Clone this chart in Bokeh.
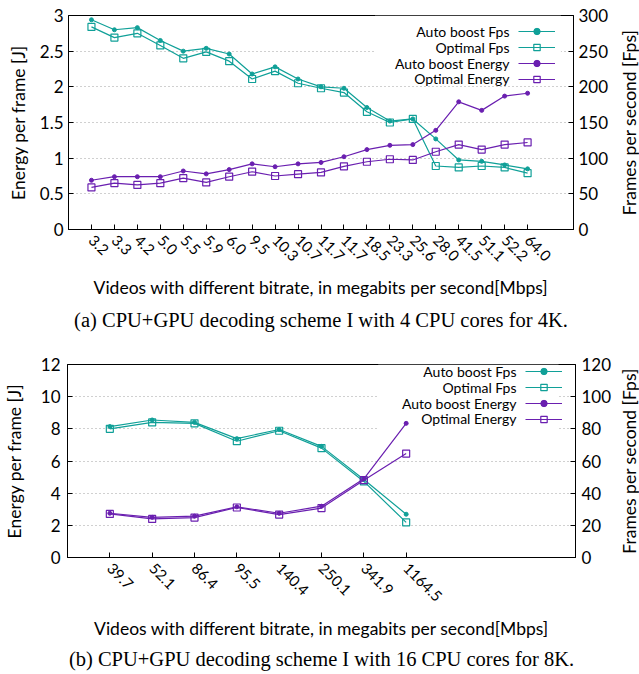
import math
from bokeh.plotting import figure
from bokeh.models import (Range1d, LinearAxis, FixedTicker, Label, Legend,
                          LegendItem, BoxAnnotation, Title)
from bokeh.layouts import column, row
from bokeh.embed import file_html
from bokeh.resources import INLINE

TEAL = "#10a098"
PURPLE = "#6a1fb0"
FONT = "Lato"
SERIF = "Liberation Serif"

# ---------------- data: panel (a) ----------------
a_bitrate = ["3.2", "3.3", "4.2", "5.0", "5.5", "5.9", "6.0", "9.5", "10.3", "10.7",
             "11.7", "11.7", "18.5", "23.3", "25.6", "28.0", "41.5", "51.1", "52.2", "64.0"]
a_auto_fps = [294, 280, 283, 265, 250, 254, 246, 218, 228, 211,
              200, 198, 171, 152, 155, 127, 97.5, 95.6, 90.5, 85]
a_opt_fps = [284, 269, 275, 258, 240, 249, 236, 211, 222, 205,
             198, 192, 165, 150, 155, 89, 87, 89, 87, 79]
a_auto_energy = [0.69, 0.74, 0.74, 0.74, 0.82, 0.78, 0.84, 0.92, 0.88, 0.92,
                 0.94, 1.02, 1.12, 1.18, 1.19, 1.39, 1.79, 1.67, 1.87, 1.91]
a_opt_energy = [0.59, 0.65, 0.625, 0.65, 0.72, 0.66, 0.74, 0.81, 0.75, 0.775,
                0.80, 0.886, 0.95, 0.985, 0.975, 1.09, 1.19, 1.12, 1.19, 1.22]
a_energy_ticks = [0, 0.5, 1, 1.5, 2, 2.5, 3]
a_fps_ticks = [0, 50, 100, 150, 200, 250, 300]

# ---------------- data: panel (b) ----------------
b_bitrate = ["39.7", "52.1", "86.4", "95.5", "140.4", "250.1", "341.9", "1164.5"]
b_auto_fps = [81.4, 85.5, 84.0, 73.9, 79.6, 69.1, 48.5, 26.9]
b_opt_fps = [80.0, 84.0, 83.4, 72.3, 78.8, 68.0, 47.3, 21.8]
b_auto_energy = [2.75, 2.50, 2.57, 3.15, 2.75, 3.19, 4.89, 8.34]
b_opt_energy = [2.71, 2.40, 2.48, 3.11, 2.67, 3.07, 4.81, 6.46]
b_energy_ticks = [0, 2, 4, 6, 8, 10, 12]
b_fps_ticks = [0, 20, 40, 60, 80, 100, 120]

series_names = ["Auto boost Fps", "Optimal Fps", "Auto boost Energy", "Optimal Energy"]
x_title = "Videos with different bitrate, in megabits per second[Mbps]"
y_left_title = "Energy per frame [J]"
y_right_title = "Frames per second [Fps]"
caption_a = "(a) CPU+GPU decoding scheme I with 4 CPU cores for 4K."
caption_b = "(b) CPU+GPU decoding scheme I with 16 CPU cores for 8K."

MAIN_W = 614
SIDE_W = 25
TITLE_SIZE = "17.5px"
TICK_SIZE = "17px"
XTICK_SIZE = "15px"
CAPTION_SIZE = "20.5px"


def fmt(v):
    return ("%g" % v)


def make_panel(cats, auto_fps, opt_fps, auto_e, opt_e, e_ticks, f_ticks, caption,
               height, bl, br, bt, bb, fh, ystand, rstand, ltitle_stand,
               xtitle_stand, cap_stand, key_box, legend_loc, legend_x,
               x_end, side_x):
    n = len(cats)
    xs = list(range(1, n + 1))
    p = figure(width=MAIN_W, height=height, output_backend="svg", toolbar_location=None,
               x_range=Range1d(0, x_end),
               y_range=Range1d(e_ticks[0], e_ticks[-1]),
               min_border_left=bl, min_border_right=br, min_border_top=bt,
               min_border_bottom=bb)
    p.extra_y_ranges = {"fps": Range1d(f_ticks[0], f_ticks[-1])}
    p.outline_line_color = "black"
    p.outline_line_width = 1
    p.background_fill_color = "white"
    p.border_fill_color = "white"

    # x axis
    xa = p.xaxis[0]
    xa.ticker = FixedTicker(ticks=xs)
    xa.major_label_overrides = {x: c for x, c in zip(xs, cats)}
    xa.major_label_orientation = -math.pi / 4
    xa.major_label_text_font = FONT
    xa.major_label_text_font_size = XTICK_SIZE
    xa.major_label_text_color = "black"
    xa.major_label_standoff = 8
    xa.major_tick_in = 5
    xa.major_tick_out = 0
    xa.minor_tick_line_color = None
    xa.axis_line_color = "black"
    xa.major_tick_line_color = "black"
    xa.axis_label = x_title
    xa.axis_label_text_font = FONT
    xa.axis_label_text_font_size = TITLE_SIZE
    xa.axis_label_text_font_style = "normal"
    xa.axis_label_text_color = "black"
    xa.axis_label_standoff = xtitle_stand

    # left axis
    ya = p.yaxis[0]
    ya.ticker = FixedTicker(ticks=e_ticks)
    ya.major_label_overrides = {t: fmt(t) for t in e_ticks}
    ya.major_label_text_font = FONT
    ya.major_label_text_font_size = TICK_SIZE
    ya.major_label_text_color = "black"
    ya.major_label_standoff = ystand
    ya.major_tick_in = 5
    ya.major_tick_out = 0
    ya.minor_tick_line_color = None
    ya.axis_line_color = "black"
    ya.axis_label = y_left_title
    ya.axis_label_text_font = FONT
    ya.axis_label_text_font_size = TITLE_SIZE
    ya.axis_label_text_font_style = "normal"
    ya.axis_label_text_color = "black"
    ya.axis_label_standoff = ltitle_stand

    # right axis
    ra = LinearAxis(y_range_name="fps", ticker=FixedTicker(ticks=f_ticks))
    ra.major_label_overrides = {t: fmt(t) for t in f_ticks}
    ra.major_label_text_font = FONT
    ra.major_label_text_font_size = TICK_SIZE
    ra.major_label_text_color = "black"
    ra.major_label_standoff = rstand
    ra.major_tick_in = 5
    ra.major_tick_out = 0
    ra.minor_tick_line_color = None
    ra.axis_line_color = "black"
    p.add_layout(ra, "right")

    # caption
    p.add_layout(Title(text=caption, align="center", text_font=SERIF,
                       text_font_size=CAPTION_SIZE, text_font_style="normal",
                       text_color="black", standoff=cap_stand), "below")

    p.xgrid.visible = False
    p.ygrid.ticker = FixedTicker(ticks=e_ticks)
    p.ygrid.grid_line_color = "#a0a0a0"
    p.ygrid.grid_line_dash = "1 3"
    p.ygrid.grid_line_width = 1

    # opaque key area (blanks grid behind the key)
    kl, kr, kb, kt = key_box
    p.add_layout(BoxAnnotation(left=kl, right=kr, bottom=kb, top=kt, fill_color="white",
                               fill_alpha=1.0, line_alpha=0, level="underlay"))

    # series
    items = []
    specs = [(auto_fps, TEAL, "dot", "fps"), (opt_fps, TEAL, "square", "fps"),
             (auto_e, PURPLE, "dot", "default"), (opt_e, PURPLE, "square", "default")]
    for (vals, col, mk, rng) in specs:
        ln = p.line(xs, vals, line_color=col, line_width=1.2, y_range_name=rng)
        if mk == "dot":
            sc = p.scatter(xs, vals, marker="circle", size=4, fill_color=col,
                           line_color=col, y_range_name=rng)
        else:
            sc = p.scatter(xs, vals, marker="square", size=7, fill_alpha=0,
                           line_color=col, line_width=1.2, y_range_name=rng)
        items.append(LegendItem(label=" ", renderers=[ln, sc]))

    leg = Legend(items=items, location=legend_loc, orientation="vertical",
                 glyph_width=37, glyph_height=16, label_height=16, label_width=0,
                 label_standoff=0, padding=0, spacing=0, margin=0,
                 label_text_font_size="1px", background_fill_alpha=0,
                 border_line_alpha=0)
    p.add_layout(leg)

    # key texts (gnuplot style: text left of the sample)
    for i, name in enumerate(series_names):
        p.add_layout(Label(x=legend_x, y=fh - 15.7 - 15.9 * i, x_units="screen",
                           y_units="screen", text=name, text_align="right",
                           text_baseline="middle", text_font=FONT,
                           text_font_size="14px", text_color="black"))

    # right-hand axis title (reads bottom-to-top, as in the reference);
    # the side figure's frame is aligned with the main frame inside the row
    s = figure(width=SIDE_W, height=height, output_backend="svg", toolbar_location=None,
               title=None, x_range=Range1d(0, SIDE_W), y_range=Range1d(0, 1),
               min_border=0, outline_line_color=None)
    s.axis.visible = False
    s.grid.visible = False
    s.border_fill_color = "white"
    s.background_fill_color = "white"
    s.add_layout(Label(x=side_x, y=0.5, text=y_right_title, angle=math.pi / 2,
                       text_align="center", text_baseline="middle", text_font=FONT,
                       text_font_size=TITLE_SIZE, text_color="black"))
    return row(p, s, spacing=0)


pa = make_panel(a_bitrate, a_auto_fps, a_opt_fps, a_auto_energy, a_opt_energy,
                a_energy_ticks, a_fps_ticks, caption_a,
                height=342, bl=68, br=41, bt=15, bb=113, fh=214,
                ystand=5, rstand=5, ltitle_stand=8, xtitle_stand=8, cap_stand=11,
                key_box=(13.35, 21.45, 2.04, 3.0), legend_loc=(450, 142),
                legend_x=441, x_end=22, side_x=15)

pb = make_panel(b_bitrate, b_auto_fps, b_opt_fps, b_auto_energy, b_opt_energy,
                b_energy_ticks, b_fps_ticks, caption_b,
                height=332, bl=64, br=37, bt=22, bb=108, fh=202,
                ystand=7, rstand=6, ltitle_stand=13, xtitle_stand=8, cap_stand=9,
                key_box=(7.34, 11.6, 7.7, 12.0), legend_loc=(458, 130),
                legend_x=449, x_end=12, side_x=15)

layout = column(pa, pb, spacing=0)
open("out.html", "w").write(file_html(layout, INLINE))
